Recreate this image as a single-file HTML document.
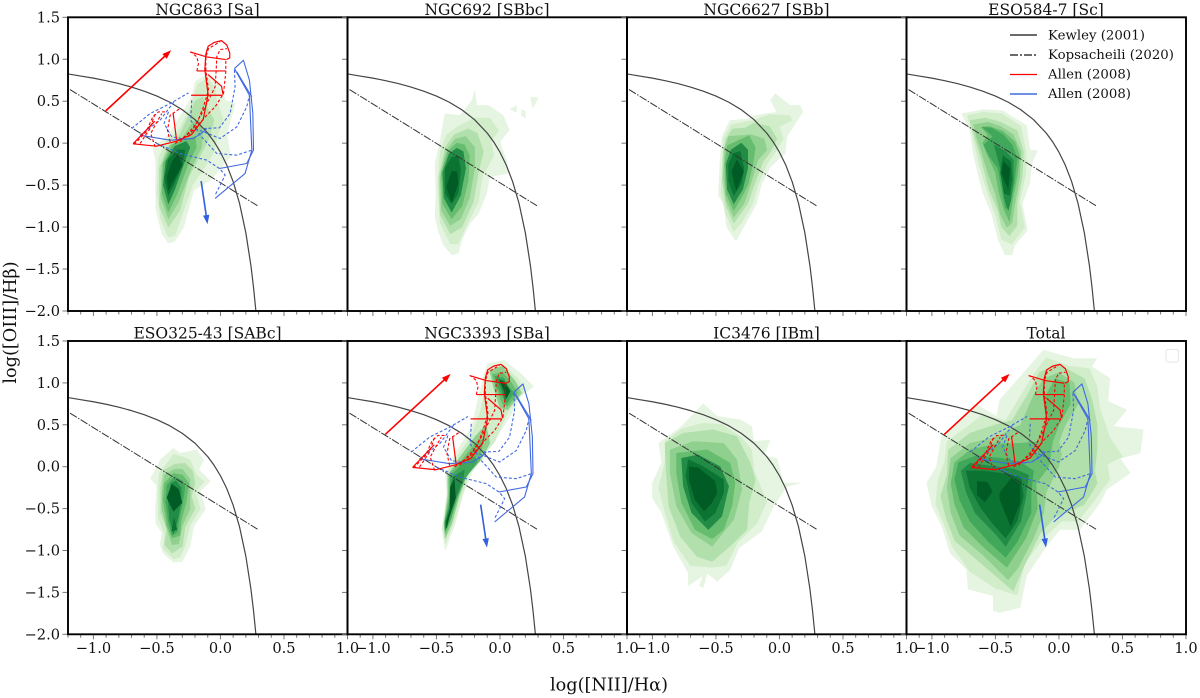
<!DOCTYPE html>
<html>
<head>
<meta charset="utf-8">
<title>BPT diagrams</title>
<style>
html,body{margin:0;padding:0;background:#fff;width:1200px;height:698px;overflow:hidden}
svg{display:block}
text{font-family:"DejaVu Serif","Liberation Serif",serif;fill:#111}
</style>
</head>
<body>
<svg id="chart" width="1200" height="698" viewBox="0 0 1200 698" xmlns="http://www.w3.org/2000/svg">
  <g id="panels"></g>
  <g font-size="15.5" text-anchor="middle">
    <text x="207.5" y="15">NGC863 [Sa]</text>
    <text x="487" y="15">NGC692 [SBbc]</text>
    <text x="766.5" y="15">NGC6627 [SBb]</text>
    <text x="1046" y="15">ESO584-7 [Sc]</text>
    <text x="207.5" y="338.5">ESO325-43 [SABc]</text>
    <text x="487" y="338.5">NGC3393 [SBa]</text>
    <text x="766.5" y="338.5">IC3476 [IBm]</text>
    <text x="1046" y="338.5">Total</text>
  </g>
  <text font-size="17.7" text-anchor="middle" transform="translate(16,322.5) rotate(-90)">log([OIII]/Hβ)</text>
  <text font-size="17.7" text-anchor="middle" x="609" y="690.5">log([NII]/Hα)</text>
  <g font-size="13.3">
    <g>
      <line x1="1010" x2="1037" y1="35" y2="35" stroke="#111" stroke-width="1.3"></line>
      <text x="1048" y="39.5">Kewley (2001)</text>
    </g>
    <g>
      <line x1="1010" x2="1037" y1="55" y2="55" stroke="#111" stroke-width="1.3" stroke-dasharray="8,2,2,2"></line>
      <text x="1048" y="59">Kopsacheili (2020)</text>
    </g>
    <g>
      <line x1="1010" x2="1037" y1="74.5" y2="74.5" stroke="#ff0000" stroke-width="1.3"></line>
      <text x="1048" y="78.7">Allen (2008)</text>
    </g>
    <g>
      <line x1="1010" x2="1037" y1="94" y2="94" stroke="#4169e1" stroke-width="1.5"></line>
      <text x="1048" y="98.2">Allen (2008)</text>
    </g>
  </g>
  <rect x="1166" y="349.5" width="12.5" height="12.5" rx="2" fill="#fff" stroke="#e6e6e6" stroke-width="1"></rect>
</svg>
<script>
// ---- tick data ----
const xTickValues = [-1.0, -0.5, 0.0, 0.5, 1.0];
const xTickLabels = ['\u22121.0', '\u22120.5', '0.0', '0.5', '1.0'];
const xMinorTicks = [-1.2,-1.1,-0.9,-0.8,-0.7,-0.6,-0.4,-0.3,-0.2,-0.1,0.1,0.2,0.3,0.4,0.6,0.7,0.8,0.9];
const yTickValues = [1.5, 1.0, 0.5, 0.0, -0.5, -1.0, -1.5, -2.0];
const yTickLabels = ['1.5', '1.0', '0.5', '0.0', '\u22120.5', '\u22121.0', '\u22121.5', '\u22122.0'];

// ---- demarcation lines (x, y in log units) ----
const kewleyLine = [[-1.2,0.825],[-1.1,0.80],[-1.0,0.775],[-0.9,0.745],[-0.8,0.71],[-0.7,0.669],[-0.6,0.62],[-0.5,0.561],[-0.4,0.489],[-0.3,0.398],[-0.2,0.28],[-0.1,0.12],[-0.05,0.017],[0,-0.108],[0.05,-0.262],[0.1,-0.459],[0.15,-0.716],[0.2,-1.069],[0.24,-1.462],[0.26,-1.715],[0.279,-2.0]];
const kopsacheiliLine = [[-1.184,0.639],[0.296,-0.75]];

// ---- shock model grids (shown in NGC863, NGC3393, Total) ----
const redSolid = [
 [[-0.239,1.087],[-0.108,1.028],[0.042,0.996]],
 [[-0.186,0.861],[0.042,0.861]],
 [[-0.231,0.571],[0.016,0.571]],
 [[-0.688,-0.008],[-0.504,-0.036],[-0.346,0.024],[-0.228,0.103],[-0.136,0.282],[-0.097,0.579],[-0.123,0.877],[-0.115,1.06],[-0.097,1.155],[-0.05,1.2],[0.008,1.222],[0.05,1.17],[0.073,1.075],[0.073,1.016],[0.047,0.996]],
 [[-0.097,0.817],[0.008,0.679],[0.021,0.579]],
 [[-0.373,0.361],[-0.346,0.044]],
 [[-0.517,0.262],[-0.688,-0.008]]
];
const redDashed = [
 [[-0.68,-0.016],[-0.585,0.135],[-0.533,0.313],[-0.488,0.373],[-0.428,0.373]],
 [[-0.633,-0.004],[-0.554,0.175],[-0.514,0.353]],
 [[-0.514,-0.044],[-0.549,0.115],[-0.514,0.214],[-0.462,0.353]],
 [[-0.396,0.016],[-0.417,0.155],[-0.396,0.333],[-0.318,0.413]],
 [[-0.357,-0.004],[-0.213,0.155],[-0.108,0.333],[-0.042,0.433],[0.024,0.591],[0.042,0.849],[0.042,0.996]],
 [[-0.318,0.016],[-0.186,0.234],[-0.134,0.433],[-0.094,0.631],[-0.115,0.869],[-0.115,1.028],[-0.094,1.127],[-0.003,1.21]],
 [[-0.252,0.075],[-0.147,0.353],[-0.042,0.671],[-0.034,0.861],[-0.029,1.028],[-0.003,1.115],[0.05,1.127]],
 [[-0.186,0.861],[-0.173,0.948],[-0.186,1.028],[-0.231,1.087]]
];
const blueSolid = [
 [[0.11,0.889],[0.181,0.988],[0.228,0.75],[0.255,0.353],[0.26,-0.083],[0.207,-0.242],[-0.008,-0.302]],
 [[0.11,0.889],[0.228,0.571],[0.247,-0.083],[0.194,-0.361],[-0.042,-0.659]],
 [[0.129,0.849],[0.247,0.552]],
 [[-0.633,0.095],[-0.396,0.036],[-0.213,0.056],[-0.134,0.135],[-0.108,0.175]]
];
const blueDashed = [
 [[-0.698,0.175],[-0.554,0.353],[-0.396,0.472],[-0.252,0.599]],
 [[-0.633,0.095],[-0.475,0.274],[-0.357,0.512]],
 [[-0.409,0.373],[-0.444,0.234],[-0.383,0.075],[-0.265,0.044]],
 [[-0.226,0.512],[-0.234,0.274],[-0.16,0.095],[-0.029,-0.123],[0.129,-0.143],[0.247,-0.083]],
 [[-0.501,-0.004],[-0.318,-0.123],[-0.108,-0.202],[-0.008,-0.302],[0.037,-0.381],[-0.042,-0.619]],
 [[-0.199,0.175],[-0.003,0.056],[0.129,0.194],[0.207,0.433],[0.228,0.571]],
 [[-0.134,0.175],[-0.008,0.183],[0.076,0.353],[0.115,0.671],[0.11,0.889]]
];
const redArrow = [[-0.903,0.385],[-0.388,1.107]];
const blueArrow = [[-0.152,-0.452],[-0.102,-0.964]];

// ---- density contours: [level, polygon of [log NII/Ha, log OIII/Hb]] ----
const contoursNgc863 = [
 [0,[[-0.41,-1.19],[-0.46,-1.08],[-0.51,-0.78],[-0.51,-0.2],[-0.53,-0.06],[-0.40,0.115],[-0.225,0.55],[-0.2,0.73],[-0.11,0.82],[-0.03,0.75],[0.04,0.51],[0.115,0.47],[0.05,0.115],[0.08,-0.16],[-0.08,-0.44],[-0.21,-0.56],[-0.29,-1.0],[-0.36,-1.17]]],
 [1,[[-0.41,-1.12],[-0.47,-0.9],[-0.5,-0.6],[-0.49,-0.2],[-0.44,0.0],[-0.33,0.15],[-0.23,0.45],[-0.18,0.7],[-0.1,0.77],[-0.04,0.65],[-0.03,0.5],[0.02,0.3],[-0.02,0.1],[-0.05,-0.1],[-0.13,-0.3],[-0.22,-0.5],[-0.3,-0.85],[-0.36,-1.1]]],
 [2,[[-0.41,-1.0],[-0.48,-0.75],[-0.48,-0.3],[-0.42,-0.05],[-0.32,0.1],[-0.26,0.3],[-0.2,0.5],[-0.14,0.55],[-0.1,0.4],[-0.05,0.28],[-0.09,0.05],[-0.16,-0.15],[-0.25,-0.4],[-0.32,-0.8]]],
 [3,[[-0.41,-0.9],[-0.47,-0.65],[-0.46,-0.25],[-0.4,-0.03],[-0.3,0.06],[-0.22,0.25],[-0.17,0.28],[-0.14,0.15],[-0.15,-0.05],[-0.23,-0.3],[-0.33,-0.7]]],
 [4,[[-0.41,-0.82],[-0.46,-0.6],[-0.45,-0.25],[-0.38,-0.02],[-0.26,0.05],[-0.2,0.08],[-0.19,-0.05],[-0.26,-0.27],[-0.34,-0.6]]],
 [6,[[-0.41,-0.72],[-0.45,-0.5],[-0.43,-0.22],[-0.36,-0.04],[-0.27,0.02],[-0.24,-0.05],[-0.29,-0.25],[-0.36,-0.55]]],
 [7,[[-0.41,-0.62],[-0.44,-0.42],[-0.41,-0.2],[-0.34,-0.08],[-0.28,-0.08],[-0.3,-0.25],[-0.37,-0.5]]],
 [8,[[-0.41,-0.56],[-0.42,-0.4],[-0.38,-0.22],[-0.34,-0.14],[-0.3,-0.26],[-0.37,-0.44]]]
];
const contoursNgc692 = [
 [0,[[-0.38,-1.33],[-0.446,-1.21],[-0.486,-1.04],[-0.51,-0.88],[-0.504,-0.6],[-0.51,-0.24],[-0.47,0.035],[-0.433,0.35],[-0.315,0.33],[-0.22,0.51],[-0.197,0.63],[-0.184,0.45],[-0.09,0.45],[0.026,0.33],[0.073,0.155],[0,0.016],[0.05,-0.2],[0.066,-0.36],[-0.08,-0.4],[-0.105,-0.6],[-0.17,-0.84],[-0.236,-0.956],[-0.3,-1.15],[-0.328,-1.31]]],
 [0,[[0.24,0.55],[0.3,0.54],[0.26,0.42]]],
 [0,[[0.08,0.4],[0.13,0.45],[0.13,0.37]]],
 [0,[[0.17,0.4],[0.2,0.38],[0.2,0.3],[0.17,0.33]]],
 [1,[[-0.39,-1.2],[-0.47,-0.95],[-0.49,-0.5],[-0.47,-0.1],[-0.42,0.1],[-0.33,0.2],[-0.2,0.3],[-0.08,0.3],[-0.01,0.15],[-0.07,0.03],[-0.05,-0.15],[-0.14,-0.4],[-0.17,-0.7],[-0.27,-1.0],[-0.33,-1.2]]],
 [2,[[-0.39,-1.08],[-0.47,-0.85],[-0.48,-0.4],[-0.43,-0.05],[-0.36,0.1],[-0.25,0.17],[-0.18,0.12],[-0.13,-0.1],[-0.17,-0.35],[-0.21,-0.7],[-0.3,-1.0]]],
 [3,[[-0.39,-0.98],[-0.46,-0.8],[-0.47,-0.4],[-0.42,-0.08],[-0.35,0.05],[-0.27,0.08],[-0.2,-0.05],[-0.2,-0.3],[-0.24,-0.65],[-0.31,-0.9]]],
 [4,[[-0.38,-0.9],[-0.45,-0.72],[-0.46,-0.35],[-0.41,-0.1],[-0.34,0.0],[-0.28,-0.02],[-0.24,-0.15],[-0.25,-0.45],[-0.3,-0.75]]],
 [6,[[-0.38,-0.82],[-0.44,-0.65],[-0.45,-0.35],[-0.4,-0.13],[-0.34,-0.06],[-0.29,-0.1],[-0.27,-0.3],[-0.31,-0.62]]],
 [7,[[-0.38,-0.72],[-0.43,-0.6],[-0.43,-0.3],[-0.38,-0.17],[-0.33,-0.15],[-0.31,-0.32],[-0.33,-0.6]]],
 [8,[[-0.38,-0.34],[-0.34,-0.34],[-0.33,-0.48],[-0.38,-0.7],[-0.42,-0.52]]]
];
const contoursNgc6627 = [
 [0,[[-0.35,-1.15],[-0.415,-1.0],[-0.44,-0.72],[-0.48,-0.62],[-0.467,-0.2],[-0.454,0.075],[-0.39,0.27],[-0.244,0.29],[-0.19,0.33],[-0.02,0.37],[-0.07,0.51],[-0.034,0.59],[0.084,0.45],[0.163,0.45],[0.184,0.37],[0.123,0.23],[0.058,0.075],[0.045,-0.12],[-0.07,-0.28],[-0.14,-0.48],[-0.18,-0.72],[-0.283,-1.0],[-0.336,-1.15]]],
 [1,[[-0.36,-1.05],[-0.42,-0.85],[-0.46,-0.6],[-0.45,-0.2],[-0.44,0.05],[-0.38,0.22],[-0.28,0.25],[-0.2,0.27],[-0.08,0.34],[0.08,0.33],[0.1,0.27],[0.0,0.2],[0.03,0.05],[-0.03,-0.1],[-0.1,-0.25],[-0.17,-0.5],[-0.21,-0.72],[-0.3,-0.95]]],
 [2,[[-0.36,-0.95],[-0.42,-0.75],[-0.45,-0.45],[-0.44,-0.1],[-0.42,0.05],[-0.37,0.17],[-0.27,0.18],[-0.2,0.24],[-0.08,0.2],[-0.02,0.05],[-0.07,-0.1],[-0.13,-0.22],[-0.2,-0.5],[-0.25,-0.72]]],
 [3,[[-0.36,-0.88],[-0.42,-0.68],[-0.44,-0.4],[-0.43,-0.05],[-0.4,0.08],[-0.32,0.09],[-0.22,0.1],[-0.12,0.05],[-0.1,-0.08],[-0.17,-0.2],[-0.23,-0.5],[-0.28,-0.72]]],
 [4,[[-0.36,-0.8],[-0.42,-0.6],[-0.43,-0.25],[-0.41,-0.03],[-0.34,0.02],[-0.24,0.09],[-0.19,-0.05],[-0.21,-0.25],[-0.25,-0.5],[-0.3,-0.65]]],
 [6,[[-0.36,-0.72],[-0.41,-0.55],[-0.42,-0.25],[-0.38,-0.08],[-0.3,0.0],[-0.25,-0.08],[-0.25,-0.3],[-0.29,-0.55]]],
 [7,[[-0.36,-0.62],[-0.4,-0.45],[-0.4,-0.25],[-0.36,-0.12],[-0.31,-0.1],[-0.28,-0.3],[-0.3,-0.48]]],
 [8,[[-0.336,-0.2],[-0.283,-0.34],[-0.34,-0.56],[-0.375,-0.34]]]
];
const contoursEso584 = [
 [0,[[-0.766,0.35],[-0.596,0.40],[-0.44,0.385],[-0.255,0.21],[-0.23,-0.08],[-0.17,-0.09],[-0.215,-0.24],[-0.23,-0.48],[-0.29,-0.72],[-0.25,-1.04],[-0.346,-1.21],[-0.37,-1.33],[-0.425,-1.33],[-0.478,-1.15],[-0.53,-0.84],[-0.596,-0.6],[-0.635,-0.38],[-0.675,-0.12],[-0.70,0.155]]],
 [1,[[-0.72,0.33],[-0.6,0.37],[-0.45,0.35],[-0.3,0.2],[-0.26,-0.1],[-0.26,-0.35],[-0.31,-0.7],[-0.27,-1.0],[-0.37,-1.2],[-0.45,-1.15],[-0.5,-0.85],[-0.57,-0.55],[-0.63,-0.25],[-0.68,0.1]]],
 [2,[[-0.7,0.27],[-0.58,0.3],[-0.46,0.25],[-0.33,0.15],[-0.28,-0.1],[-0.29,-0.4],[-0.33,-0.72],[-0.33,-0.98],[-0.39,-1.1],[-0.45,-1.0],[-0.48,-0.8],[-0.55,-0.55],[-0.61,-0.2],[-0.66,0.05]]],
 [3,[[-0.67,0.22],[-0.56,0.25],[-0.46,0.2],[-0.36,0.1],[-0.3,-0.1],[-0.31,-0.4],[-0.35,-0.75],[-0.37,-0.95],[-0.41,-1.0],[-0.46,-0.85],[-0.5,-0.6],[-0.56,-0.35],[-0.61,-0.1],[-0.65,0.08]]],
 [4,[[-0.61,0.19],[-0.55,0.2],[-0.44,0.14],[-0.35,0.02],[-0.31,-0.15],[-0.33,-0.4],[-0.37,-0.72],[-0.39,-0.93],[-0.43,-0.8],[-0.47,-0.6],[-0.5,-0.35],[-0.56,-0.15],[-0.6,0.0],[-0.56,0.1]]],
 [5,[[-0.6,0.19],[-0.53,0.18],[-0.44,0.1],[-0.37,-0.02],[-0.33,-0.18],[-0.35,-0.45],[-0.39,-0.75],[-0.42,-0.78],[-0.45,-0.55],[-0.48,-0.3],[-0.55,-0.15],[-0.59,-0.02],[-0.52,0.08]]],
 [6,[[-0.51,-0.02],[-0.42,-0.1],[-0.36,-0.2],[-0.36,-0.45],[-0.38,-0.68],[-0.4,-0.8],[-0.43,-0.65],[-0.46,-0.3]]],
 [7,[[-0.44,-0.15],[-0.38,-0.22],[-0.37,-0.42],[-0.39,-0.62],[-0.43,-0.6],[-0.46,-0.35]]],
 [8,[[-0.438,-0.22],[-0.386,-0.30],[-0.4,-0.54],[-0.45,-0.36]]]
];
const contoursEso325 = [
 [0,[[-0.37,-1.14],[-0.45,-1.03],[-0.475,-0.93],[-0.46,-0.79],[-0.51,-0.67],[-0.51,-0.47],[-0.5,-0.23],[-0.55,-0.135],[-0.51,-0.035],[-0.475,0.08],[-0.37,0.22],[-0.32,0.16],[-0.186,0.2],[-0.134,0.08],[-0.17,-0.035],[-0.08,-0.175],[-0.16,-0.29],[-0.12,-0.51],[-0.21,-0.71],[-0.24,-0.95],[-0.30,-1.13]]],
 [1,[[-0.37,-1.1],[-0.45,-0.98],[-0.44,-0.8],[-0.49,-0.6],[-0.49,-0.25],[-0.48,-0.07],[-0.4,0.08],[-0.37,0.15],[-0.3,0.12],[-0.24,0.08],[-0.19,-0.1],[-0.13,-0.18],[-0.2,-0.3],[-0.16,-0.5],[-0.24,-0.7],[-0.28,-0.95],[-0.32,-1.08]]],
 [2,[[-0.38,-1.03],[-0.44,-0.93],[-0.42,-0.75],[-0.47,-0.55],[-0.47,-0.25],[-0.45,-0.05],[-0.36,0.03],[-0.28,0.04],[-0.22,-0.05],[-0.2,-0.2],[-0.23,-0.35],[-0.2,-0.5],[-0.28,-0.72],[-0.3,-0.95]]],
 [3,[[-0.38,-0.93],[-0.42,-0.75],[-0.46,-0.5],[-0.46,-0.3],[-0.44,-0.1],[-0.36,-0.03],[-0.3,-0.03],[-0.24,-0.15],[-0.24,-0.35],[-0.24,-0.5],[-0.3,-0.7],[-0.33,-0.92]]],
 [4,[[-0.38,-0.85],[-0.42,-0.7],[-0.45,-0.4],[-0.44,-0.2],[-0.37,-0.08],[-0.3,-0.1],[-0.25,-0.2],[-0.27,-0.42],[-0.31,-0.65],[-0.32,-0.82]]],
 [5,[[-0.38,-0.82],[-0.41,-0.65],[-0.43,-0.42],[-0.42,-0.22],[-0.36,-0.12],[-0.3,-0.17],[-0.28,-0.25],[-0.3,-0.45],[-0.33,-0.65],[-0.34,-0.78]]],
 [6,[[-0.37,-0.8],[-0.4,-0.62],[-0.41,-0.42],[-0.39,-0.2],[-0.35,-0.17],[-0.31,-0.25],[-0.31,-0.42],[-0.34,-0.65]]],
 [8,[[-0.383,-0.21],[-0.33,-0.27],[-0.304,-0.43],[-0.37,-0.53],[-0.42,-0.37]]],
 [7,[[-0.365,-0.61],[-0.344,-0.75],[-0.383,-0.77]]]
];
const contoursNgc3393 = [
 [0,[[-0.43,-1.0],[-0.457,-0.75],[-0.417,-0.31],[-0.43,-0.075],[-0.35,0.16],[-0.22,0.48],[-0.18,0.76],[-0.1,1.23],[0.03,1.27],[0.16,1.115],[0.265,0.956],[0.16,0.84],[0.095,0.64],[-0.024,0.36],[-0.076,0.24],[-0.13,0.16],[-0.22,-0.075],[-0.286,-0.31],[-0.35,-0.67],[-0.40,-0.87]]],
 [1,[[-0.43,-0.92],[-0.45,-0.73],[-0.41,-0.32],[-0.42,-0.08],[-0.34,0.12],[-0.22,0.38],[-0.15,0.68],[-0.09,1.15],[0.02,1.22],[0.14,1.05],[0.2,0.9],[0.13,0.8],[0.05,0.62],[-0.04,0.3],[-0.14,0.12],[-0.24,-0.08],[-0.3,-0.35],[-0.37,-0.7]]],
 [3,[[-0.43,-0.85],[-0.44,-0.7],[-0.41,-0.35],[-0.41,-0.1],[-0.33,0.08],[-0.2,0.35],[-0.14,0.45],[-0.11,0.5],[-0.08,0.28],[-0.15,0.08],[-0.26,-0.1],[-0.32,-0.35],[-0.38,-0.68]]],
 [3,[[-0.08,1.15],[0.02,1.2],[0.12,1.02],[0.17,0.88],[0.06,0.68],[0.0,0.7],[-0.05,0.95]]],
 [4,[[-0.43,-0.8],[-0.44,-0.68],[-0.4,-0.38],[-0.4,-0.1],[-0.31,0.06],[-0.18,0.3],[-0.13,0.33],[-0.16,0.07],[-0.27,-0.12],[-0.33,-0.35],[-0.39,-0.65]]],
 [4,[[-0.06,1.1],[0.02,1.13],[0.09,1.0],[0.14,0.88],[0.06,0.72],[0.02,0.75],[-0.03,0.95]]],
 [5,[[-0.43,-0.76],[-0.43,-0.65],[-0.39,-0.4],[-0.39,-0.12],[-0.3,0.03],[-0.2,0.12],[-0.18,0.06],[-0.28,-0.15],[-0.34,-0.37],[-0.39,-0.62]]],
 [5,[[-0.04,1.08],[0.03,1.06],[0.07,0.95],[0.11,0.88],[0.05,0.75],[0.02,0.85],[-0.02,0.95]]],
 [6,[[-0.43,-0.75],[-0.43,-0.65],[-0.4,-0.5],[-0.39,-0.25],[-0.37,-0.12],[-0.28,-0.04],[-0.29,-0.15],[-0.35,-0.38],[-0.4,-0.6]]],
 [6,[[-0.02,1.05],[0.03,1.03],[0.08,0.9],[0.04,0.78],[0.02,0.9]]],
 [8,[[-0.42,-0.73],[-0.42,-0.65],[-0.39,-0.5],[-0.39,-0.25],[-0.36,-0.15],[-0.35,-0.37],[-0.4,-0.6]]],
 [8,[[0,1.03],[0.04,1.0],[0.08,0.9],[0.05,0.82],[0.03,0.92]]]
];
const contoursIc3476 = [
 [0,[[-0.717,-1.417],[-0.717,-1.266],[-0.835,-0.95],[-0.927,-0.55],[-1.0,-0.37],[-1.0,-0.195],[-0.927,0.044],[-0.95,0.28],[-0.77,0.48],[-0.6,0.75],[-0.49,0.6],[-0.31,0.56],[-0.218,0.48],[-0.205,0.3],[-0.073,0.32],[-0.126,0.123],[-0.02,0.1],[0.03,-0.195],[0.163,-0.195],[0.058,-0.234],[-0.047,-0.47],[-0.14,-0.77],[-0.32,-0.97],[-0.39,-1.23],[-0.49,-1.365],[-0.57,-1.27],[-0.6,-1.44],[-0.63,-1.42],[-0.6,-1.3]]],
 [1,[[-0.7,-1.18],[-0.83,-0.9],[-0.9,-0.55],[-0.95,-0.25],[-0.9,0.05],[-0.9,0.3],[-0.77,0.45],[-0.6,0.52],[-0.45,0.5],[-0.3,0.35],[-0.22,0.2],[-0.2,-0.05],[-0.1,-0.42],[-0.18,-0.68],[-0.33,-0.9],[-0.42,-1.18],[-0.53,-1.2]]],
 [2,[[-0.53,-1.13],[-0.65,-1.07],[-0.78,-0.83],[-0.87,-0.47],[-0.89,-0.075],[-0.9,0.28],[-0.756,0.4],[-0.52,0.44],[-0.336,0.36],[-0.23,0.044],[-0.19,-0.155],[-0.24,-0.43],[-0.257,-0.75],[-0.39,-0.95]]],
 [3,[[-0.53,-0.95],[-0.69,-0.79],[-0.81,-0.47],[-0.86,-0.075],[-0.86,0.2],[-0.68,0.3],[-0.44,0.28],[-0.336,0.083],[-0.297,-0.27],[-0.36,-0.63]]],
 [4,[[-0.53,-0.86],[-0.664,-0.75],[-0.77,-0.43],[-0.81,-0.075],[-0.81,0.16],[-0.57,0.2],[-0.39,0.044],[-0.35,-0.195],[-0.375,-0.47],[-0.44,-0.75]]],
 [6,[[-0.56,-0.75],[-0.69,-0.55],[-0.756,-0.234],[-0.77,0.1],[-0.64,0.14],[-0.467,0.0],[-0.40,-0.234],[-0.454,-0.59]]],
 [7,[[-0.585,-0.65],[-0.69,-0.43],[-0.737,-0.115],[-0.717,0.083],[-0.6,0.0],[-0.44,-0.155],[-0.44,-0.313],[-0.507,-0.55]]],
 [8,[[-0.593,-0.53],[-0.664,-0.39],[-0.71,-0.155],[-0.71,0.0],[-0.638,-0.016],[-0.507,-0.175],[-0.493,-0.313],[-0.533,-0.43]]]
];
const contoursTotal = [
 [0,[[-0.517,-1.72],[-0.517,-1.54],[-0.714,-1.46],[-0.727,-1.226],[-0.856,-1.03],[-0.92,-0.71],[-1.0,-0.47],[-1.04,-0.194],[-0.963,0.004],[-0.924,0.36],[-0.648,0.74],[-0.49,0.6],[-0.465,0.8],[-0.28,1.115],[-0.123,1.39],[0.113,1.29],[0.297,1.29],[0.257,1.194],[0.4,1.055],[0.386,0.778],[0.533,0.68],[0.428,0.48],[0.664,0.44],[0.638,0.163],[0.48,0.1],[0.56,-0.075],[0.375,-0.27],[0.323,-0.43],[0.165,-0.75],[0.008,-0.75],[-0.1,-0.95],[-0.255,-1.3],[-0.307,-1.68],[-0.465,-1.74]]],
 [1,[[-0.5,-1.45],[-0.7,-1.25],[-0.84,-0.95],[-0.9,-0.7],[-0.97,-0.45],[-0.95,-0.15],[-0.9,0.05],[-0.88,0.3],[-0.7,0.5],[-0.6,0.62],[-0.42,0.55],[-0.3,0.85],[-0.2,1.1],[-0.1,1.3],[0.08,1.2],[0.24,1.17],[0.3,0.95],[0.32,0.7],[0.4,0.35],[0.5,0.12],[0.38,0.03],[0.4,-0.15],[0.28,-0.4],[0.15,-0.65],[0.02,-0.65],[-0.12,-0.85],[-0.27,-1.15],[-0.33,-1.53]]],
 [2,[[-0.36,-1.48],[-0.63,-1.13],[-0.82,-0.88],[-0.89,-0.6],[-0.93,-0.35],[-0.88,-0.1],[-0.87,0.2],[-0.7,0.4],[-0.5,0.5],[-0.37,0.55],[-0.25,0.85],[-0.15,1.13],[0.0,1.22],[0.2,1.05],[0.26,0.8],[0.3,0.5],[0.3,0.2],[0.28,-0.05],[0.3,-0.2],[0.2,-0.45],[0.05,-0.55],[-0.03,-0.6],[-0.15,-0.8],[-0.28,-1.2]]],
 [3,[[-0.4,-1.35],[-0.6,-1.05],[-0.78,-0.82],[-0.85,-0.55],[-0.88,-0.25],[-0.85,0.1],[-0.7,0.28],[-0.5,0.35],[-0.3,0.5],[-0.2,0.85],[-0.12,1.05],[0.0,1.12],[0.12,1.0],[0.15,0.75],[0.05,0.5],[0.0,0.3],[0.02,0.15],[0.0,0.0],[-0.1,-0.3],[-0.12,-0.55],[-0.2,-0.85],[-0.32,-1.2]]],
 [4,[[-0.41,-1.2],[-0.6,-0.95],[-0.75,-0.72],[-0.82,-0.45],[-0.85,-0.2],[-0.82,0.05],[-0.7,0.2],[-0.5,0.27],[-0.3,0.28],[-0.15,0.3],[-0.1,0.55],[-0.12,0.8],[-0.03,1.05],[0.08,1.0],[0.09,0.75],[0,0.5],[-0.05,0.3],[-0.08,0.0],[-0.18,-0.2],[-0.17,-0.5],[-0.26,-0.85]]],
 [5,[[-0.42,-1.08],[-0.55,-0.9],[-0.7,-0.65],[-0.78,-0.4],[-0.82,-0.15],[-0.79,0.05],[-0.65,0.13],[-0.45,0.1],[-0.3,0.05],[-0.2,-0.05],[-0.22,-0.3],[-0.22,-0.55],[-0.33,-0.9]]],
 [6,[[-0.42,-0.95],[-0.5,-0.8],[-0.66,-0.55],[-0.73,-0.3],[-0.77,-0.05],[-0.7,0.04],[-0.5,0.0],[-0.35,-0.03],[-0.24,-0.1],[-0.26,-0.35],[-0.3,-0.65]]],
 [7,[[-0.42,-0.85],[-0.52,-0.68],[-0.62,-0.48],[-0.7,-0.25],[-0.73,-0.05],[-0.6,-0.05],[-0.45,-0.08],[-0.3,-0.12],[-0.28,-0.35],[-0.33,-0.65]]],
 [8,[[-0.643,-0.175],[-0.564,-0.186],[-0.525,-0.294],[-0.583,-0.42],[-0.643,-0.333]]],
 [8,[[-0.373,-0.135],[-0.307,-0.214],[-0.307,-0.43],[-0.38,-0.71],[-0.465,-0.39],[-0.465,-0.313]]]
];
const levelColors = ['#e6f5e1','#d1edca','#b2e0ac','#8fd08e','#66bd6f','#41a75b','#228c47','#0b7433','#005c24'];

// ---- layout & axis functions ----
const SVGNS = 'http://www.w3.org/2000/svg';
const root = document.getElementById('panels');
const X_MIN = -1.2, X_MAX = 1.0, Y_MIN = -2.0, Y_MAX = 1.5;
const PANEL_W = 279.5;

function makeAxes(left, top, bottom) {
  return {
    left: left, top: top, bottom: bottom,
    x: function (v) { return left + (v - X_MIN) / (X_MAX - X_MIN) * PANEL_W; },
    y: function (v) { return bottom - (v - Y_MIN) / (Y_MAX - Y_MIN) * (bottom - top); }
  };
}
function svgEl(tag, parent) {
  const el = document.createElementNS(SVGNS, tag);
  parent.appendChild(el);
  return el;
}
function pointsD(pts, ax, close) {
  const d = pts.map(function (p, i) {
    return (i ? 'L' : 'M') + ax.x(p[0]).toFixed(2) + ' ' + ax.y(p[1]).toFixed(2);
  }).join('');
  return close ? d + 'Z' : d;
}
function drawLines(group, sets, ax, color, width, dash, name) {
  sets.forEach(function (pts) {
    const line = svgEl('path', group);
    
    
    line.setAttribute('d', pointsD(pts, ax, false));
    line.setAttribute('fill', 'none');
    line.setAttribute('stroke', color);
    line.setAttribute('stroke-width', width);
    line.setAttribute('stroke-linejoin', 'round');
    if (dash) line.setAttribute('stroke-dasharray', dash);
  });
}
function drawArrow(group, arrow, ax, color, name) {
  const x1 = ax.x(arrow[0][0]), y1 = ax.y(arrow[0][1]);
  const x2 = ax.x(arrow[1][0]), y2 = ax.y(arrow[1][1]);
  const len = Math.hypot(x2 - x1, y2 - y1);
  const ux = (x2 - x1) / len, uy = (y2 - y1) / len;
  const shaft = svgEl('line', group);
  
  
  shaft.setAttribute('x1', x1);
  shaft.setAttribute('y1', y1);
  shaft.setAttribute('x2', x2 - ux * 6);
  shaft.setAttribute('y2', y2 - uy * 6);
  shaft.setAttribute('stroke', color);
  shaft.setAttribute('stroke-width', 1.6);
  const head = svgEl('polygon', group);
  
  
  const bx = x2 - ux * 9, by = y2 - uy * 9;
  head.setAttribute('points', x2 + ',' + y2 + ' ' + (bx - uy * 3.2) + ',' + (by + ux * 3.2) + ' ' + (bx + uy * 3.2) + ',' + (by - ux * 3.2));
  head.setAttribute('fill', color);
}
function tickLine(group, x1, y1, x2, y2, name) {
  const t = svgEl('line', group);
  
  
  t.setAttribute('x1', x1);
  t.setAttribute('y1', y1);
  t.setAttribute('x2', x2);
  t.setAttribute('y2', y2);
  t.setAttribute('stroke', '#777');
  t.setAttribute('stroke-width', 1);
}
function tickText(group, x, y, str, anchor, name) {
  const t = svgEl('text', group);
  
  
  t.setAttribute('x', x);
  t.setAttribute('y', y);
  t.setAttribute('font-size', '14.6');
  t.setAttribute('text-anchor', anchor);
  t.textContent = str;
}

function drawPanel(cfg) {
  const ax = makeAxes(cfg.left, cfg.top, cfg.bottom);
  const g = svgEl('g', root);
  
  

  const clip = svgEl('clipPath', g);
  clip.setAttribute('id', 'clip-' + cfg.name);
  const clipRect = svgEl('rect', clip);
  clipRect.setAttribute('x', cfg.left);
  clipRect.setAttribute('y', cfg.top);
  clipRect.setAttribute('width', PANEL_W);
  clipRect.setAttribute('height', cfg.bottom - cfg.top);

  const plot = svgEl('g', g);
  
  
  plot.setAttribute('clip-path', 'url(#clip-' + cfg.name + ')');

  cfg.contours.forEach(function (c) {
    const poly = svgEl('path', plot);
    
    
    poly.setAttribute('d', pointsD(c[1], ax, true));
    poly.setAttribute('fill', levelColors[c[0]]);
    poly.setAttribute('stroke', levelColors[c[0]]);
    poly.setAttribute('stroke-width', 0.6);
    poly.setAttribute('stroke-linejoin', 'round');
  });

  drawLines(plot, [kewleyLine], ax, '#444', 1.2, null, 'kewley-line');
  drawLines(plot, [kopsacheiliLine], ax, '#333', 1, '8,1.5,1.5,1.5', 'kopsacheili-line');

  if (cfg.models) {
    drawLines(plot, blueDashed, ax, '#4169e1', 1.1, '3,2', 'allen-blue-dashed');
    drawLines(plot, blueSolid, ax, '#4169e1', 1.1, null, 'allen-blue-solid');
    drawLines(plot, redDashed, ax, '#ff0000', 1.1, '3,2', 'allen-red-dashed');
    drawLines(plot, redSolid, ax, '#ff0000', 1.2, null, 'allen-red-solid');
    drawArrow(plot, redArrow, ax, '#ff0000', 'red-arrow');
    drawArrow(plot, blueArrow, ax, '#3160e0', 'blue-arrow');
  }

  xMinorTicks.forEach(function (v) {
    tickLine(g, ax.x(v), cfg.bottom, ax.x(v), cfg.bottom + 3.5, 'x-minor-tick');
  });
  xTickValues.forEach(function (v) {
    tickLine(g, ax.x(v), cfg.bottom, ax.x(v), cfg.bottom + 5, 'x-major-tick');
  });
  yTickValues.forEach(function (v) {
    tickLine(g, cfg.left - 5.5, ax.y(v), cfg.left, ax.y(v), 'y-major-tick');
  });

  if (cfg.showX) {
    xTickValues.forEach(function (v, i) {
      tickText(g, ax.x(v), cfg.bottom + 18.5, xTickLabels[i], 'middle', 'x-tick-label');
    });
  }
  if (cfg.showY) {
    yTickValues.forEach(function (v, i) {
      tickText(g, cfg.left - 8, ax.y(v) + 5, yTickLabels[i], 'end', 'y-tick-label');
    });
  }

  const frame = svgEl('rect', g);
  
  
  frame.setAttribute('x', cfg.left);
  frame.setAttribute('y', cfg.top);
  frame.setAttribute('width', PANEL_W);
  frame.setAttribute('height', cfg.bottom - cfg.top);
  frame.setAttribute('fill', 'none');
  frame.setAttribute('stroke', '#000');
  frame.setAttribute('stroke-width', 1.9);
}

const TOP_ROW = [17.3, 311];
const BOTTOM_ROW = [341, 634.3];
const LEFTS = [68, 347.5, 627, 906.5];

drawPanel({name:'panel-ngc863', left:LEFTS[0], top:TOP_ROW[0], bottom:TOP_ROW[1], contours:contoursNgc863, models:true, showY:true, showX:false});
drawPanel({name:'panel-ngc692', left:LEFTS[1], top:TOP_ROW[0], bottom:TOP_ROW[1], contours:contoursNgc692, models:false, showY:false, showX:false});
drawPanel({name:'panel-ngc6627', left:LEFTS[2], top:TOP_ROW[0], bottom:TOP_ROW[1], contours:contoursNgc6627, models:false, showY:false, showX:false});
drawPanel({name:'panel-eso584', left:LEFTS[3], top:TOP_ROW[0], bottom:TOP_ROW[1], contours:contoursEso584, models:false, showY:false, showX:false});
drawPanel({name:'panel-eso325', left:LEFTS[0], top:BOTTOM_ROW[0], bottom:BOTTOM_ROW[1], contours:contoursEso325, models:false, showY:true, showX:true});
drawPanel({name:'panel-ngc3393', left:LEFTS[1], top:BOTTOM_ROW[0], bottom:BOTTOM_ROW[1], contours:contoursNgc3393, models:true, showY:false, showX:true});
drawPanel({name:'panel-ic3476', left:LEFTS[2], top:BOTTOM_ROW[0], bottom:BOTTOM_ROW[1], contours:contoursIc3476, models:false, showY:false, showX:true});
drawPanel({name:'panel-total', left:LEFTS[3], top:BOTTOM_ROW[0], bottom:BOTTOM_ROW[1], contours:contoursTotal, models:true, showY:false, showX:true});
</script>
</body>
</html>
